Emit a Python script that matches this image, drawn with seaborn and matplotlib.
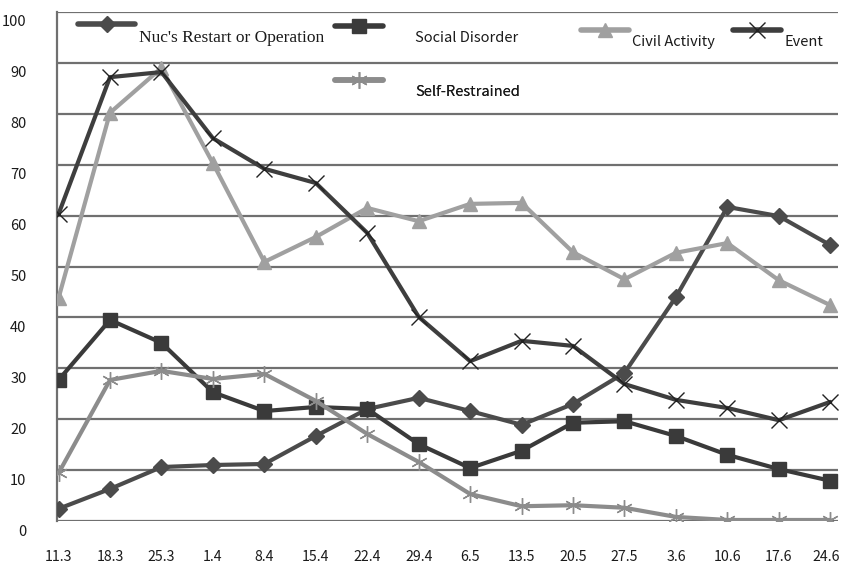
import matplotlib
matplotlib.use("Agg")
import matplotlib.pyplot as plt
import matplotlib.transforms as mtransforms
from matplotlib.lines import Line2D
import seaborn as sns
import pandas as pd

# Data
dates = ["11.3", "18.3", "25.3", "1.4", "8.4", "15.4", "22.4", "29.4",
         "6.5", "13.5", "20.5", "27.5", "3.6", "10.6", "17.6", "24.6"]
nuc_restart = [2.4, 6.3, 10.6, 11.0, 11.2, 16.7, 22.0, 24.2,
               21.6, 18.9, 23.0, 29.1, 44.0, 61.7, 59.9, 54.2]
social_disorder = [27.7, 39.5, 35.0, 25.3, 21.6, 22.4, 22.0, 15.1,
                   10.4, 13.8, 19.3, 19.6, 16.7, 13.0, 10.2, 7.9]
civil_activity = [43.8, 80.2, 89.0, 70.3, 50.9, 55.8, 61.5, 58.9,
                  62.3, 62.5, 52.8, 47.5, 52.7, 54.6, 47.3, 42.4]
event = [60.3, 87.2, 88.2, 75.2, 69.2, 66.4, 56.6, 40.1,
         31.4, 35.4, 34.4, 26.9, 23.8, 22.2, 19.8, 23.4]
self_restrained = [9.4, 27.7, 29.5, 27.9, 28.9, 23.6, 17.1, 11.6,
                   5.3, 2.9, 3.1, 2.6, 0.8, 0.2, 0.2, 0.2]

series = {
    "Nuc's Restart or Operation": nuc_restart,
    "Social Disorder": social_disorder,
    "Civil Activity": civil_activity,
    "Event": event,
    "Self-Restrained": self_restrained,
}

styles = {
    "Nuc's Restart or Operation": dict(color="#4b4b4b", marker="D", markersize=8, mec="#4b4b4b"),
    "Social Disorder": dict(color="#3a3a3a", marker="s", markersize=10, mec="#3a3a3a"),
    "Civil Activity": dict(color="#a0a0a0", marker="^", markersize=10, mec="#a0a0a0"),
    "Event": dict(color="#3e3e3e", marker="x", markersize=11, mec="#222222", markeredgewidth=1.0),
    "Self-Restrained": dict(color="#8c8c8c", marker=(6, 2, 0), markersize=12, mec="#8c8c8c", markeredgewidth=1.0),
}

sns.set_style("white")
plt.rcParams['font.family'] = ['Noto Sans CJK JP', 'DejaVu Sans']

fig = plt.figure(figsize=(8.42, 5.72), dpi=100)
ax = fig.add_axes([57 / 842, 51 / 572, (838 - 57) / 842, (521 - 12) / 572])

for name, vals in series.items():
    df = pd.DataFrame({"date": dates, "value": vals})
    st = styles[name]
    sns.lineplot(data=df, x="date", y="value", ax=ax, sort=False,
                 color=st["color"], linewidth=3, marker=st["marker"],
                 markersize=st["markersize"], markeredgecolor=st["mec"],
                 markeredgewidth=st.get("markeredgewidth", 1), label=name,
                 legend=False, zorder=3)

ax.set_ylim(0, 100)
ax.set_xlim(-0.03, 15.15)
ax.set_yticks(range(0, 101, 10))
ax.set_xlabel("")
ax.set_ylabel("")

# gridlines
ax.yaxis.grid(True, color="#707070", linewidth=1.6)
ax.xaxis.grid(False)
ax.set_axisbelow(True)
for s in ["top", "right", "bottom"]:
    ax.spines[s].set_visible(False)
ax.spines["left"].set_color("#707070")
ax.spines["left"].set_linewidth(1.6)

ax.tick_params(axis="x", direction="out", length=7, width=1.6, color="#707070",
               pad=14, labelsize=10.2, labelcolor="#1a1a1a")
ax.tick_params(axis="y", length=0, pad=22, labelsize=10.5, labelcolor="#1a1a1a")

# y tick labels sit a bit below their gridlines in the original
offset = mtransforms.ScaledTranslation(0, -9 / 100, fig.dpi_scale_trans)
for lbl in ax.get_yticklabels():
    lbl.set_transform(lbl.get_transform() + offset)

# keep the last date label inside the picture
last = ax.get_xticklabels()[-1]
last.set_transform(last.get_transform() + mtransforms.ScaledTranslation(-4 / 100, 0, fig.dpi_scale_trans))

# legend: one entry at a time, placed like the original
legend_spots = [
    ("Nuc's Restart or Operation", 78, 18, ["Liberation Serif", "DejaVu Serif"], 12.5, 0.2),
    ("Social Disorder", 335, 20, None, 10.5, 2.2),
    ("Civil Activity", 581, 24, None, 10.5, 0.2),
    ("Event", 733, 24, None, 10.5, 0.2),
    ("Self-Restrained", 335, 74, None, 10.5, 2.2),
]
for name, px, py, fam, fs, tpad in legend_spots:
    st = styles[name]
    h = Line2D([], [], color=st["color"], linewidth=4, marker=st["marker"],
               markersize=st["markersize"], markeredgecolor=st["mec"],
               markerfacecolor=st["color"], markeredgewidth=st.get("markeredgewidth", 1))
    prop = {"size": fs}
    if fam:
        prop["family"] = fam
    leg = ax.legend([h], [name], loc="upper left",
                    bbox_to_anchor=(px / 842, 1 - py / 572),
                    bbox_transform=fig.transFigure, frameon=False,
                    borderpad=0, borderaxespad=0, handlelength=3.3,
                    handletextpad=tpad, prop=prop)
    for t in leg.get_texts():
        t.set_verticalalignment("top")
        t.set_color("#1a1a1a")
    ax.add_artist(leg)

fig.savefig("out.png", dpi=100)
